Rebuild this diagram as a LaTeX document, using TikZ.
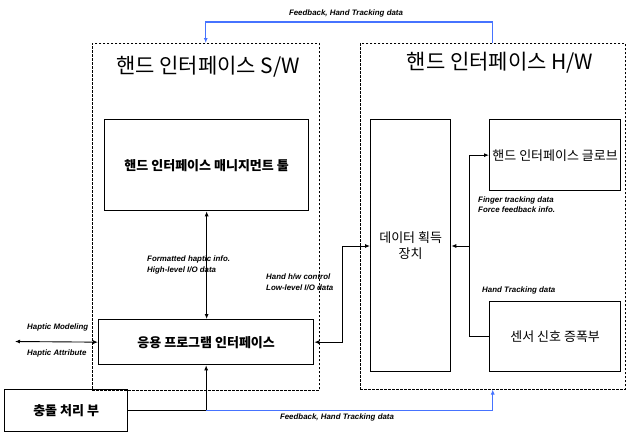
\documentclass[tikz,border=0pt]{standalone}
\usepackage{fontspec}
\usetikzlibrary{arrows.meta,calc}
\newfontfamily\kr{Noto Sans CJK KR}
\newfontfamily\lab{Liberation Sans}
\definecolor{fbblue}{RGB}{70,115,255}
\begin{document}
\begin{tikzpicture}[x=1pt,y=-1pt,
  box/.style={draw,line width=1.3pt,inner sep=0pt,anchor=north west,align=center},
  group/.style={draw,line width=0.5pt,dash pattern=on 2.5pt off 1.5pt,inner sep=0pt,anchor=north west},
  conn/.style={line width=0.9pt,arrows={-Latex[length=5pt,width=4pt]}},
  dconn/.style={line width=0.9pt,arrows={Latex[length=5pt,width=4pt]-Latex[length=5pt,width=4pt]}},
  fb/.style={conn,draw=fbblue,line width=1.4pt,-{Latex[length=5pt,width=4pt,fill=fbblue]}},
  lbl/.style={font=\lab\bfseries\itshape\fontsize{7.9}{10.5}\selectfont,inner sep=0pt,align=left},
  title/.style={font=\kr\fontsize{21}{24}\selectfont,inner sep=0pt},
  kb/.style={font=\kr\bfseries\fontsize{13}{16}\selectfont},
  kn/.style={font=\kr\fontsize{13}{16}\selectfont}
]
\useasboundingbox (0,0) rectangle (627,432);
% groups
\node[group,minimum width=227pt,minimum height=347pt] (sw) at (92,43) {};
\node[group,minimum width=265pt,minimum height=346pt] (hw) at (360,43) {};
\node[title] (swt) at (208,67) {핸드 인터페이스 S/W};
\node[title] (hwt) at (500,63) {핸드 인터페이스 H/W};
% boxes
\node[box,kb,minimum width=204pt,minimum height=91pt] (mgmt) at (104,119) {핸드 인터페이스 매니지먼트 툴};
\node[box,kb,minimum width=215pt,minimum height=45pt] (api) at (98,319) {응용 프로그램 인터페이스};
\node[box,kb,minimum width=123pt,minimum height=42pt] (coll) at (4,389) {충돌 처리 부};
\node[box,kn,minimum width=80pt,minimum height=252pt] (daq) at (370,119) {데이터 획득\\장치};
\node[box,kn,minimum width=131pt,minimum height=71pt] (glove) at (489,119) {핸드 인터페이스 글로브};
\node[box,kn,minimum width=131pt,minimum height=70pt] (sensor) at (489,301) {센서 신호 증폭부};
% coordinates
\coordinate (hl) at (15,341.5);
\coordinate (j1) at (342,246);
\coordinate (bus) at (469,246);
\coordinate (top) at (0,22);
% connectors
\draw[dconn] (mgmt.south) -- (mgmt.south |- api.north);
\draw[conn] (coll.east) -| (api.south);
\draw[fb] (api.south |- coll.east) -| (hw.south);
\draw[fb] (hw.north) -- (hw.north |- top) -| (sw.north);
\draw[dconn] (api.east) -| (j1) -- (j1 -| daq.west);
\draw[dconn] (hl) -- (api.west);
\draw[conn] (sensor.west) -| (bus |- glove.west) -- (glove.west);
\draw[conn] (bus) -- (bus -| daq.east);
% labels
\node[lbl] (l1) at (346,13) {Feedback, Hand Tracking data};
\node[lbl] (l2) at (337,417) {Feedback, Hand Tracking data};
\node[lbl,anchor=west] (l3) at (147,265) {Formatted haptic info.\\High-level I/O data};
\node[lbl,anchor=west] (l4) at (266,282) {Hand h/w control\\Low-level I/O data};
\node[lbl,anchor=west] (l5) at (478,204.5) {Finger tracking data\\Force feedback info.};
\node[lbl,anchor=west] (l6) at (482,290) {Hand Tracking data};
\node[lbl,anchor=west] (l7) at (27,327) {Haptic Modeling};
\node[lbl,anchor=west] (l8) at (27,353) {Haptic Attribute};
\end{tikzpicture}
\end{document}
